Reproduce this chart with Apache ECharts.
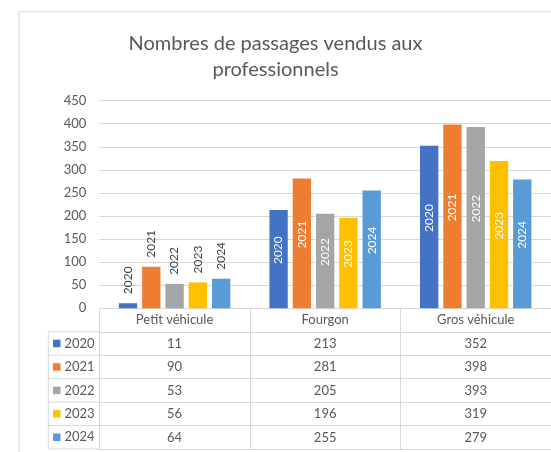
<!DOCTYPE html>
<html>
<head>
<meta charset="utf-8">
<script src="https://cdn.jsdelivr.net/npm/echarts@6/dist/echarts.min.js"></script>
<style>
  html, body { margin: 0; padding: 0; background: #fff; }
  #chart { width: 551px; height: 452px; }
</style>
</head>
<body>
<div id="chart"></div>
<script>
// données
const categories = ['Petit véhicule', 'Fourgon', 'Gros véhicule'];
const years = ['2020', '2021', '2022', '2023', '2024'];
const v2020 = [11, 213, 352];
const v2021 = [90, 281, 398];
const v2022 = [53, 205, 393];
const v2023 = [56, 196, 319];
const v2024 = [64, 255, 279];
const yTicks = [0, 50, 100, 150, 200, 250, 300, 350, 400, 450];

const values = [v2020, v2021, v2022, v2023, v2024];
const colors = ['#4472C4', '#ED7D31', '#A5A5A5', '#FFC000', '#5B9BD5'];

const FONT = 'Lato';
const GREY = '#595959';
const LINE = '#d9d9d9';
const gridTop = 100.6, gridBottom = 143.7, gridLeft = 99.3;
const rowH = 23.45;
const axisY = 452 - gridBottom;   // ligne du zéro / haut du tableau
const keyLeft = 48.3;

// étiquettes au-dessus (petites barres) ou dans la barre
const labelOut = {
    show: true, position: 'top', distance: 9, rotate: 90,
    align: 'left', verticalAlign: 'middle',
    color: '#404040', fontSize: 12, fontFamily: FONT
};
const labelIn = {
    show: true, position: 'inside', rotate: 90, offset: [9, 0],
    color: '#ffffff', fontSize: 12, fontFamily: FONT
};

const series = years.map((y, s) => ({
    name: y,
    type: 'bar',
    barCategoryGap: '26%',
    barGap: '27%',
    itemStyle: { color: colors[s] },
    label: { formatter: '{a}' },
    data: values[s].map((v, i) => ({ value: v, label: i === 0 ? labelOut : labelIn }))
}));

// tableau de données : un axe x par ligne
const tableAxes = [{
    type: 'category', data: categories, position: 'bottom', offset: 0,
    axisLine: { show: true, lineStyle: { color: LINE } },
    axisTick: { show: true, length: rowH, interval: 0, lineStyle: { color: LINE } },
    axisLabel: { margin: 5.5, color: GREY, fontSize: 13, fontFamily: FONT, interval: 0 }
}];
values.forEach((vals, k) => {
    tableAxes.push({
        type: 'category', data: vals.map(String), position: 'bottom', offset: (k + 1) * rowH,
        axisLine: { show: true, lineStyle: { color: LINE } },
        axisTick: { show: true, length: rowH, interval: 0, lineStyle: { color: LINE } },
        axisLabel: { margin: 5.5, color: GREY, fontSize: 13, fontFamily: FONT, interval: 0 }
    });
});
tableAxes.push({
    type: 'category', data: categories.map(() => ''), position: 'bottom', offset: 6 * rowH,
    axisLine: { show: true, lineStyle: { color: LINE } },
    axisTick: { show: false }, axisLabel: { show: false }
});

// cadre de la colonne légende
const keyLines = [];
for (let k = 1; k <= 6; k++) {
    keyLines.push({ type: 'line', shape: { x1: keyLeft, y1: axisY + k * rowH, x2: gridLeft, y2: axisY + k * rowH },
        style: { stroke: LINE, lineWidth: 1 } });
}
keyLines.push({ type: 'line', shape: { x1: keyLeft, y1: axisY + rowH, x2: keyLeft, y2: axisY + 6 * rowH },
    style: { stroke: LINE, lineWidth: 1 } });
keyLines.push({ type: 'rect', shape: { x: 19, y: 11.7, width: 700, height: 700 },
    style: { fill: null, stroke: LINE, lineWidth: 1 }, z: -1 });

const chart = echarts.init(document.getElementById('chart'), null, { renderer: 'canvas' });
chart.setOption({
    animation: false,
    backgroundColor: '#ffffff',
    textStyle: { fontFamily: FONT },
    title: {
        text: 'Nombres de passages vendus aux\nprofessionnels',
        left: 'center', top: 26,
        textStyle: { color: GREY, fontSize: 20, fontWeight: 'normal', fontFamily: FONT, lineHeight: 26 }
    },
    legend: {
        orient: 'vertical', left: 53, top: axisY + rowH + rowH / 2 - 7,
        padding: 0, itemWidth: 7.5, itemHeight: 7.5, itemGap: rowH - 14,
        icon: 'rect', data: years,
        textStyle: { color: GREY, fontSize: 13, fontFamily: FONT, lineHeight: 14, padding: [0, 0, 0, -1] }
    },
    grid: { left: gridLeft, right: -2.5, top: gridTop, bottom: gridBottom },
    xAxis: tableAxes,
    yAxis: {
        type: 'value', min: yTicks[0], max: yTicks[yTicks.length - 1], interval: 50,
        axisLine: { show: false }, axisTick: { show: false },
        axisLabel: { color: GREY, fontSize: 13, fontFamily: FONT, margin: 13 },
        splitLine: { lineStyle: { color: LINE } }
    },
    graphic: keyLines,
    series: series
});
</script>
</body>
</html>
